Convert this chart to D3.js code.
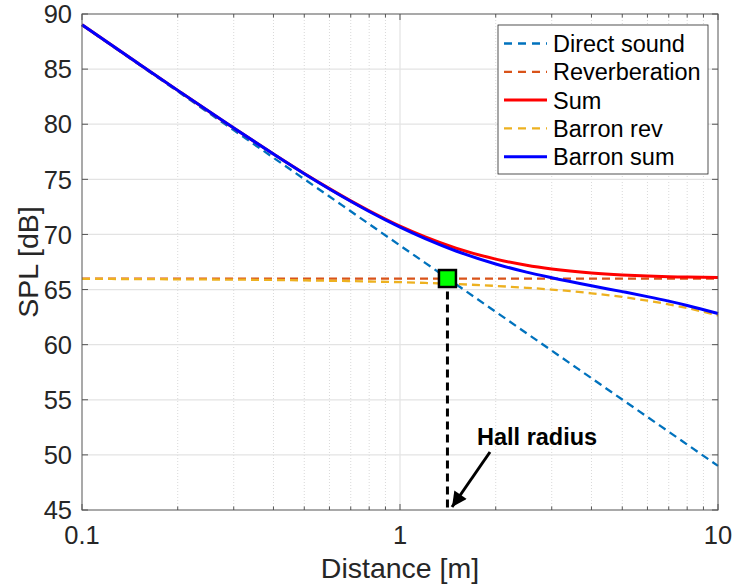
<!DOCTYPE html>
<html><head><meta charset="utf-8">
<script src="https://cdn.jsdelivr.net/npm/d3@7"></script>
<style>body{margin:0;background:#fff}svg{display:block}text{font-family:"Liberation Sans",Arial,Helvetica,sans-serif}</style>
</head><body><svg id="c" width="735" height="588"></svg>
<script>
const distances = [0.1,0.15,0.2,0.3,0.4,0.5,0.6,0.7,0.8,1,1.2,1.5,2,2.5,3,4,5,6,7,8,10];
const directSound = [89,85.48,82.98,79.46,76.96,75.02,73.44,72.10,70.94,69,67.42,65.48,62.98,61.04,59.46,56.96,55.02,53.44,52.10,50.94,49];
const reverberation = [66,66,66,66,66,66,66,66,66,66,66,66,66,66,66,66,66,66,66,66,66];
const sumLevel = [89.02,85.53,83.07,79.65,77.30,75.53,74.16,73.05,72.15,70.76,69.78,68.76,67.76,67.20,66.87,66.51,66.33,66.23,66.17,66.13,66.09];
const barronRev = [65.97,65.95,65.93,65.90,65.87,65.83,65.80,65.77,65.73,65.67,65.60,65.50,65.33,65.16,65.00,64.66,64.33,63.99,63.66,63.32,62.65];
const barronSum = [89.02,85.53,83.07,79.65,77.29,75.51,74.13,73.01,72.08,70.66,69.62,68.50,67.32,66.58,66.07,65.34,64.81,64.36,63.95,63.56,62.83];
const hallRadius = [1.41, 66];
const xTickLabels = ["0.1","1","10"];
const yTickValues = [45,50,55,60,65,70,75,80,85,90];
const seriesNames = ["Direct sound","Reverberation","Sum","Barron rev","Barron sum"];
const seriesColors = ["#0072BD","#D95319","#FF0000","#EDB120","#0000FF"];

const svg = d3.select("#c");
const L=82,R=718,T=14,B=510;
const x = d3.scaleLog().domain([0.1,10]).range([L,R]);
const y = d3.scaleLinear().domain([45,90]).range([B,T]);

// grid
const allX = x.ticks();
const majorX = [0.1,1,10];
const g = svg.append("g");
g.selectAll(".mx").data(allX.filter(v=>!majorX.some(m=>Math.abs(m-v)<1e-9))).join("line")
 .attr("x1",d=>x(d)).attr("x2",d=>x(d)).attr("y1",T).attr("y2",B)
 .attr("stroke","#d9d9d9").attr("stroke-width",1).attr("stroke-dasharray","1,2");
g.selectAll(".Mx").data([1]).join("line")
 .attr("x1",d=>x(d)).attr("x2",d=>x(d)).attr("y1",T).attr("y2",B)
 .attr("stroke","#e3e3e3").attr("stroke-width",1.2);
g.selectAll(".My").data(yTickValues.slice(1,-1)).join("line")
 .attr("x1",L).attr("x2",R).attr("y1",d=>y(d)).attr("y2",d=>y(d))
 .attr("stroke","#e3e3e3").attr("stroke-width",1.2);

// curves
const line = d3.line().x(d=>x(d[0])).y(d=>y(d[1])).curve(d3.curveMonotoneX);
const pts = arr => distances.map((d,i)=>[d,arr[i]]);
const series = [
 {v:directSound,c:seriesColors[0],dash:"8,5",w:2.3},
 {v:reverberation,c:seriesColors[1],dash:"8,5",w:2.3},
 {v:sumLevel,c:seriesColors[2],dash:null,w:3},
 {v:barronRev,c:seriesColors[3],dash:"8,5",w:2.3},
 {v:barronSum,c:seriesColors[4],dash:null,w:3}
];
series.forEach(s=>{
 svg.append("path").attr("d",line(pts(s.v))).attr("fill","none")
  .attr("stroke",s.c).attr("stroke-width",s.w)
  .attr("stroke-dasharray",s.dash);
});

// hall radius vertical
svg.append("line").attr("x1",x(hallRadius[0])).attr("x2",x(hallRadius[0]))
 .attr("y1",y(hallRadius[1])).attr("y2",B)
 .attr("stroke","#000").attr("stroke-width",3).attr("stroke-dasharray","8,5");
svg.append("rect").attr("x",x(hallRadius[0])-8.5).attr("y",y(hallRadius[1])-8.5)
 .attr("width",17).attr("height",17).attr("fill","#00FF00").attr("stroke","#000").attr("stroke-width",2.5);

// axes box
const axisColor="#262626";
svg.append("rect").attr("x",L).attr("y",T).attr("width",R-L).attr("height",B-T)
 .attr("fill","none").attr("stroke","#555").attr("stroke-width",1);
allX.forEach(v=>{
 const major = majorX.some(m=>Math.abs(m-v)<1e-9);
 const len = major?6:3.5;
 svg.append("line").attr("x1",x(v)).attr("x2",x(v)).attr("y1",B).attr("y2",B-len).attr("stroke","#555");
 svg.append("line").attr("x1",x(v)).attr("x2",x(v)).attr("y1",T).attr("y2",T+len).attr("stroke","#555");
});
yTickValues.forEach(v=>{
 svg.append("line").attr("x1",L).attr("x2",L+6).attr("y1",y(v)).attr("y2",y(v)).attr("stroke","#555");
 svg.append("line").attr("x1",R).attr("x2",R-6).attr("y1",y(v)).attr("y2",y(v)).attr("stroke","#555");
});
// tick labels
svg.selectAll(".xl").data(majorX).join("text")
 .attr("x",d=>x(d)).attr("y",544).attr("text-anchor","middle")
 .attr("font-size",25.5).attr("fill",axisColor).text((d,i)=>xTickLabels[i]);
svg.selectAll(".yl").data(yTickValues).join("text")
 .attr("x",72).attr("y",d=>y(d)).attr("dy","0.36em").attr("text-anchor","end")
 .attr("font-size",25.5).attr("fill",axisColor).text(d=>d);
// axis labels
svg.append("text").attr("x",(L+R)/2).attr("y",578).attr("text-anchor","middle")
 .attr("font-size",28.5).attr("fill",axisColor).text("Distance [m]");
svg.append("text").attr("transform",`translate(38,${(T+B)/2}) rotate(-90)`).attr("text-anchor","middle")
 .attr("font-size",28.5).attr("fill",axisColor).text("SPL [dB]");

// annotation
svg.append("defs").append("marker").attr("id","ah").attr("viewBox","0 0 10 10")
 .attr("refX",10).attr("refY",5).attr("markerWidth",6).attr("markerHeight",5)
 .attr("markerUnits","strokeWidth").attr("orient","auto")
 .append("path").attr("d","M0,0 L10,5 L0,10 z").attr("fill","#000");
svg.append("line").attr("x1",490).attr("y1",452).attr("x2",452).attr("y2",507)
 .attr("stroke","#000").attr("stroke-width",3).attr("marker-end","url(#ah)");
svg.append("text").attr("x",477).attr("y",445).attr("font-size",23.5).attr("font-weight","bold")
 .attr("fill","#000").text("Hall radius");

// legend
const lg = svg.append("g");
lg.append("rect").attr("x",498).attr("y",25).attr("width",210).attr("height",149)
 .attr("fill","#fff").attr("stroke","#262626").attr("stroke-width",0.8);
seriesNames.forEach((n,i)=>{
 const yy = 43.5 + i*28.3;
 lg.append("line").attr("x1",504).attr("x2",547).attr("y1",yy).attr("y2",yy)
  .attr("stroke",seriesColors[i]).attr("stroke-width",series[i].w)
  .attr("stroke-dasharray",series[i].dash?"8,6":null);
 lg.append("text").attr("x",553).attr("y",yy).attr("dy","0.36em").attr("font-size",23.5)
  .attr("fill","#000").text(n);
});
</script></body></html>
